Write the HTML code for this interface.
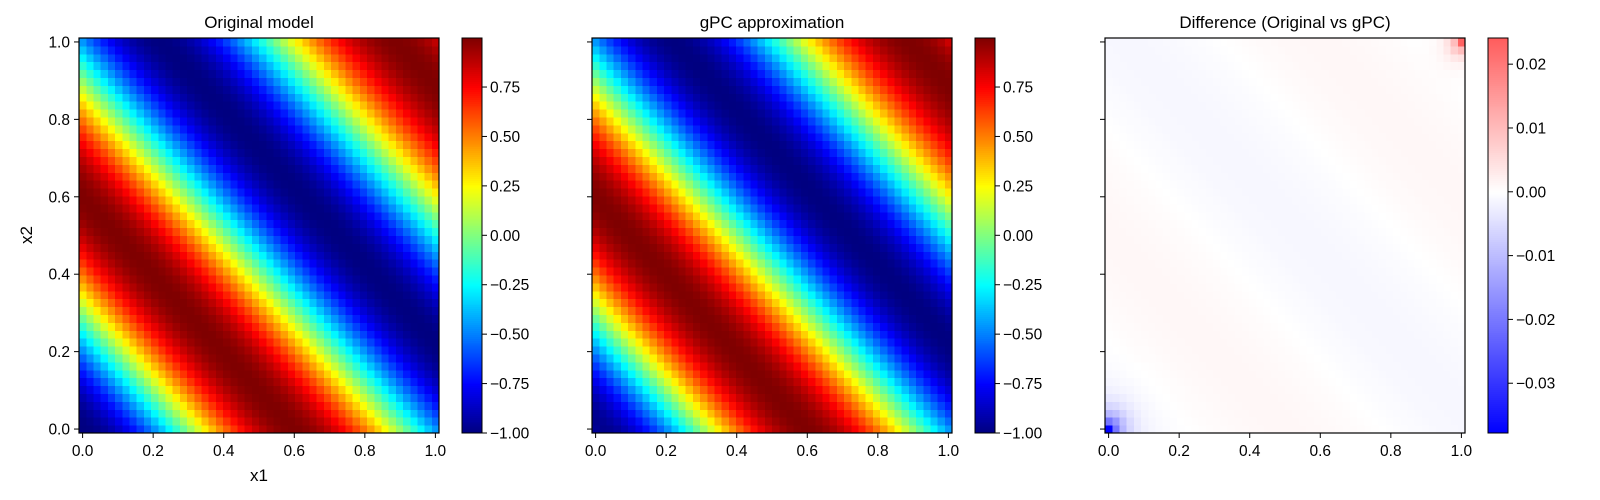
<!DOCTYPE html>
<html><head><meta charset="utf-8">
<style>
html,body{margin:0;padding:0;background:#fff;}
svg{display:block;font-family:"Liberation Sans","DejaVu Sans",sans-serif;}
</style></head>
<body>
<svg id="fig" width="1600" height="500" viewBox="0 0 1600 500" xmlns="http://www.w3.org/2000/svg"></svg>
<script>
// ---- data ----
const gridN = [50];
const axisTicks = [0.0, 0.2, 0.4, 0.6, 0.8, 1.0];
const axisTickLabels = ["0.0", "0.2", "0.4", "0.6", "0.8", "1.0"];
const jetTicks = [-1.0, -0.75, -0.5, -0.25, 0.0, 0.25, 0.5, 0.75];
const jetTickLabels = ["\u22121.00", "\u22120.75", "\u22120.50", "\u22120.25", "0.00", "0.25", "0.50", "0.75"];
const jetRange = [-1.0, 0.998];
const diffTicks = [-0.03, -0.02, -0.01, 0.0, 0.01, 0.02];
const diffTickLabels = ["\u22120.03", "\u22120.02", "\u22120.01", "0.00", "0.01", "0.02"];
const diffRange = [-0.0378, 0.0241];
// phase model coefficients (cycles): p = a1*x1 + a2*x2 + q*(x1+x2)^2
const phaseCoefs = [0.86, 0.86, -0.035];
// approximation error field: [stripe amplitude, corner low value, corner low decay, corner high value, corner high decay]
const errorCoefs = [0.0012, -0.0378, 0.03, 0.0241, 0.025];
const panelTitles = ["Original model", "gPC approximation", "Difference (Original vs gPC)"];

// ---- layout ----
const NS = "http://www.w3.org/2000/svg";
const svg = document.getElementById("fig");
const panelLeft = [79, 592, 1105];
const plotW = 360, plotTop = 38, plotBot = 433;
const cbOff = 383, cbW = 20;
const ext = [-0.0102, 1.0102];

function mk(tag, attrs, parent) {
  const e = document.createElementNS(NS, tag);
  for (const k in attrs) e.setAttribute(k, attrs[k]);
  (parent || svg).appendChild(e);
  return e;
}
function clamp(v){return Math.max(0, Math.min(1, v));}
function jet(t){
  const r = clamp(1.5 - Math.abs(4*t - 3));
  const g = clamp(1.5 - Math.abs(4*t - 2));
  const b = clamp(1.5 - Math.abs(4*t - 1));
  return `rgb(${Math.round(r*255)},${Math.round(g*255)},${Math.round(b*255)})`;
}
function bwr(t){
  t = clamp(t);
  let r,g,b;
  if (t < 0.5){ r = 2*t; g = 2*t; b = 1; } else { r = 1; g = 2*(1-t); b = 2*(1-t); }
  return `rgb(${Math.round(r*255)},${Math.round(g*255)},${Math.round(b*255)})`;
}
function model(x1, x2){
  const s = x1 + x2;
  const p = phaseCoefs[0]*x1 + phaseCoefs[1]*x2 + phaseCoefs[2]*s*s;
  return -Math.cos(2*Math.PI*p);
}
function errorField(x1, x2){
  const s = x1 + x2;
  const r0 = Math.sqrt(x1*x1 + x2*x2);
  const r1 = Math.sqrt((1-x1)*(1-x1) + (1-x2)*(1-x2));
  return errorCoefs[0]*Math.cos(2*Math.PI*(s-0.5)/1.1)
       + errorCoefs[1]*Math.exp(-r0/errorCoefs[2])
       + errorCoefs[3]*Math.exp(-r1/errorCoefs[4]);
}
const N = gridN[0];
const gridVals = [];
for (let i = 0; i < N; i++) gridVals.push(i/(N-1));

function xScale(p, v){ return panelLeft[p] + (v - ext[0])/(ext[1]-ext[0])*plotW; }
function yScale(v){ return plotBot - (v - ext[0])/(ext[1]-ext[0])*(plotBot-plotTop); }

const diffLim = Math.max(Math.abs(diffRange[0]), Math.abs(diffRange[1]));
const cellW = plotW/(N*1.0204);
const cellH = (plotBot-plotTop)/(N*1.0204);

for (let p = 0; p < 3; p++){
  const g = mk("g", {"shape-rendering":"crispEdges"});
  
  
  for (let i = 0; i < N; i++){
    for (let j = 0; j < N; j++){
      const x1 = gridVals[i], x2 = gridVals[j];
      const orig = model(x1, x2);
      const diff = errorField(x1, x2);
      let col;
      if (p === 0) col = jet((orig - jetRange[0])/(jetRange[1]-jetRange[0]));
      else if (p === 1) col = jet(((orig - diff) - jetRange[0])/(jetRange[1]-jetRange[0]));
      else col = bwr((diff + diffLim)/(2*diffLim));
      const cx = xScale(p, x1), cy = yScale(x2);
      const r = mk("rect", {x:(cx-cellW/2).toFixed(2), y:(cy-cellH/2).toFixed(2), width:(cellW+0.6).toFixed(2), height:(cellH+0.6).toFixed(2), fill:col}, g);
      
      
    }
  }
  const fr = mk("rect", {x:panelLeft[p], y:plotTop, width:plotW, height:plotBot-plotTop, fill:"none", stroke:"#000", "stroke-width":1.2});
  
  
  const t = mk("text", {x:panelLeft[p]+plotW/2, y:28, "text-anchor":"middle", "font-size":17, fill:"#000"});
  t.textContent = panelTitles[p];
  
  
  for (let k = 0; k < axisTicks.length; k++){
    const xv = xScale(p, axisTicks[k]);
    const xt = mk("line", {x1:xv, x2:xv, y1:plotBot, y2:plotBot+5, stroke:"#000", "stroke-width":1});
    
    
    const xl = mk("text", {x:xv, y:plotBot+23, "text-anchor":"middle", "font-size":15.5, fill:"#000"});
    xl.textContent = axisTickLabels[k];
    
    
    const yv = yScale(axisTicks[k]);
    const yt = mk("line", {x1:panelLeft[p]-5, x2:panelLeft[p], y1:yv, y2:yv, stroke:"#000", "stroke-width":1});
    
    
    if (p === 0){
      const yl = mk("text", {x:panelLeft[p]-9, y:yv+5.5, "text-anchor":"end", "font-size":15.5, fill:"#000"});
      yl.textContent = axisTickLabels[k];
      
      
    }
  }
  const cbx = panelLeft[p] + cbOff;
  const cg = mk("g", {"shape-rendering":"crispEdges"});
  
  
  const steps = 200;
  const rng = p < 2 ? jetRange : diffRange;
  for (let s = 0; s < steps; s++){
    const v = rng[0] + (s+0.5)/steps*(rng[1]-rng[0]);
    const col = p < 2 ? jet((v - jetRange[0])/(jetRange[1]-jetRange[0])) : bwr((v + diffLim)/(2*diffLim));
    const y0 = plotBot - (s+1)/steps*(plotBot-plotTop);
    mk("rect", {x:cbx, y:y0.toFixed(2), width:cbW, height:((plotBot-plotTop)/steps+0.6).toFixed(2), fill:col}, cg);
  }
  mk("rect", {x:cbx, y:plotTop, width:cbW, height:plotBot-plotTop, fill:"none", stroke:"#000", "stroke-width":1.2}, cg);
  const ticks = p < 2 ? jetTicks : diffTicks;
  const labels = p < 2 ? jetTickLabels : diffTickLabels;
  for (let k = 0; k < ticks.length; k++){
    const yv = plotBot - (ticks[k]-rng[0])/(rng[1]-rng[0])*(plotBot-plotTop);
    const ct = mk("line", {x1:cbx+cbW, x2:cbx+cbW+5, y1:yv, y2:yv, stroke:"#000", "stroke-width":1});
    
    
    const cl = mk("text", {x:cbx+cbW+8, y:yv+5.5, "font-size":15.5, fill:"#000"});
    cl.textContent = labels[k];
    
    
  }
}
const xlab = mk("text", {x:panelLeft[0]+plotW/2, y:481, "text-anchor":"middle", "font-size":17, fill:"#000"});
xlab.textContent = "x1";


const ylab = mk("text", {x:0, y:0, "text-anchor":"middle", "font-size":17, fill:"#000", transform:"translate(32,235) rotate(-90)"});
ylab.textContent = "x2";


</script>
</body></html>
